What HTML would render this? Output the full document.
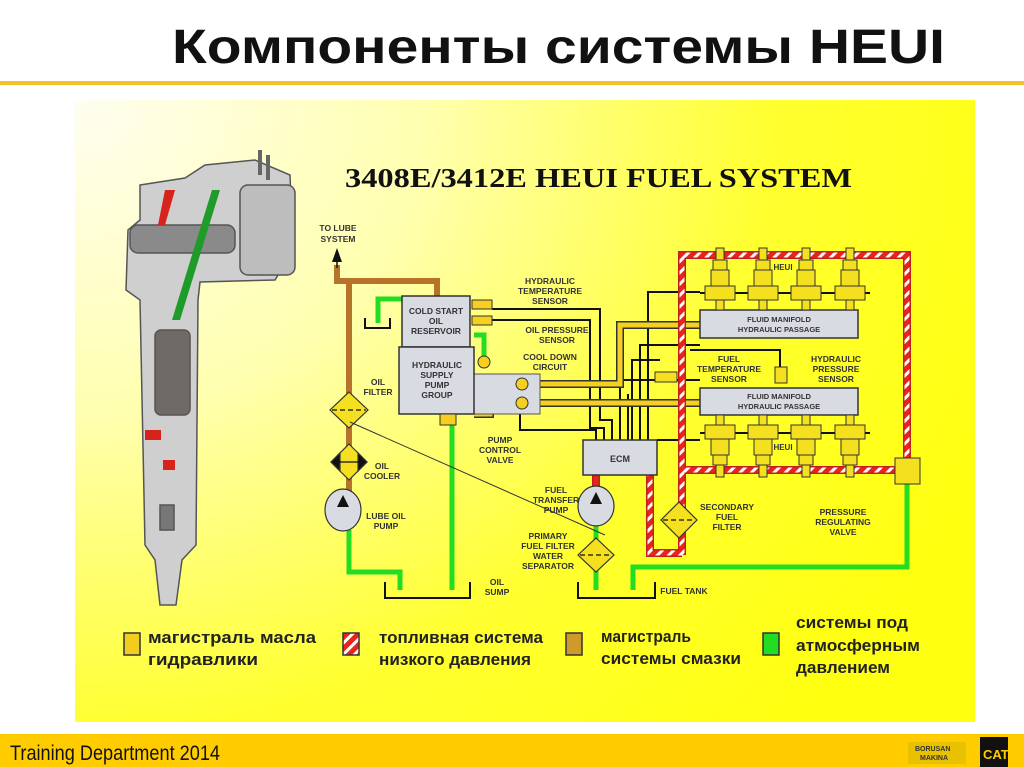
<!DOCTYPE html>
<html><head><meta charset="utf-8"><style>
html,body{margin:0;padding:0;background:#fff;width:1024px;height:767px;overflow:hidden;font-family:"Liberation Sans",sans-serif}
</style></head><body>
<svg width="1024" height="767" viewBox="0 0 1024 767" xmlns="http://www.w3.org/2000/svg" style="position:absolute;left:0;top:0">
<defs>
<radialGradient id="bg" cx="0" cy="0" r="1" gradientUnits="userSpaceOnUse" gradientTransform="translate(75 100) scale(1000 900)">
<stop offset="0" stop-color="#fffef0"/><stop offset="0.35" stop-color="#ffffb0"/><stop offset="0.7" stop-color="#ffff30"/><stop offset="1" stop-color="#ffff10"/>
</radialGradient>
<pattern id="stripe" width="8" height="8" patternUnits="userSpaceOnUse" patternTransform="rotate(45)">
<rect width="8" height="8" fill="#e8251c"/><rect width="3" height="8" fill="#fff"/>
</pattern>
</defs>
<text x="172" y="63" font-size="48" font-weight="bold" fill="#111" textLength="773" lengthAdjust="spacingAndGlyphs" font-family="Liberation Sans,sans-serif">Компоненты системы HEUI</text>
<rect x="0" y="81" width="1024" height="4" fill="#f2c228"/>
<rect x="75" y="100" width="900" height="622" fill="url(#bg)"/>
<rect x="0" y="734" width="1024" height="33" fill="#ffcc00"/>
<text x="10" y="760" font-size="21" fill="#111" font-family="Liberation Sans,sans-serif" textLength="210" lengthAdjust="spacingAndGlyphs">Training Department 2014</text>
<rect x="908" y="742" width="58" height="22" fill="#e8c200"/>
<text x="915" y="751" font-size="7" font-weight="bold" fill="#333">BORUSAN</text><text x="920" y="760" font-size="7" font-weight="bold" fill="#333">MAKINA</text>
<rect x="980" y="737" width="28" height="30" fill="#111"/><text x="983" y="759" font-size="13" font-weight="bold" fill="#ffcc00">CAT</text>

<!-- injector picture -->
<g stroke="#555" stroke-width="1.5">
<path d="M140 185 L185 178 L205 165 L255 160 L290 175 L293 250 L275 280 L200 282 L198 300 L196 545 L182 560 L176 605 L160 605 L155 560 L145 545 L140 300 L126 290 L128 230 L140 220 Z" fill="#cfcfcf"/>
<rect x="240" y="185" width="55" height="90" rx="8" fill="#bdbdbd"/>
<rect x="130" y="225" width="105" height="28" rx="8" fill="#8a8a8a"/>
<rect x="155" y="330" width="35" height="85" rx="6" fill="#6f6a66"/>
<rect x="160" y="505" width="14" height="25" fill="#777"/>
</g>
<path d="M165 190 L175 190 L165 225 L158 225 Z" fill="#d8221c"/>
<path d="M212 190 L220 190 L180 320 L172 320 Z" fill="#1f9b2a"/>
<rect x="145" y="430" width="16" height="10" fill="#d8221c"/><rect x="163" y="460" width="12" height="10" fill="#d8221c"/>
<line x1="260" y1="150" x2="260" y2="175" stroke="#666" stroke-width="4"/><line x1="268" y1="155" x2="268" y2="180" stroke="#666" stroke-width="4"/>

<!-- diagram title -->
<text x="345" y="187" font-size="27" font-weight="bold" fill="#111" font-family="Liberation Serif,serif" textLength="507" lengthAdjust="spacingAndGlyphs">3408E/3412E HEUI FUEL SYSTEM</text>

<g font-family="Liberation Sans,sans-serif" font-size="8.5" font-weight="bold" fill="#333" text-anchor="middle">
<text x="338" y="231">TO LUBE</text><text x="338" y="242">SYSTEM</text>
<text x="550" y="284">HYDRAULIC</text><text x="550" y="294">TEMPERATURE</text><text x="550" y="304">SENSOR</text>
<text x="557" y="333">OIL PRESSURE</text><text x="557" y="343">SENSOR</text>
<text x="550" y="360">COOL DOWN</text><text x="550" y="370">CIRCUIT</text>
<text x="378" y="385">OIL</text><text x="378" y="395">FILTER</text>
<text x="382" y="469">OIL</text><text x="382" y="479">COOLER</text>
<text x="386" y="519">LUBE OIL</text><text x="386" y="529">PUMP</text>
<text x="500" y="443">PUMP</text><text x="500" y="453">CONTROL</text><text x="500" y="463">VALVE</text>
<text x="497" y="585">OIL</text><text x="497" y="595">SUMP</text>
<text x="556" y="493">FUEL</text><text x="556" y="503">TRANSFER</text><text x="556" y="513">PUMP</text>
<text x="548" y="539">PRIMARY</text><text x="548" y="549">FUEL FILTER</text><text x="548" y="559">WATER</text><text x="548" y="569">SEPARATOR</text>
<text x="684" y="594">FUEL TANK</text>
<text x="729" y="362">FUEL</text><text x="729" y="372">TEMPERATURE</text><text x="729" y="382">SENSOR</text>
<text x="836" y="362">HYDRAULIC</text><text x="836" y="372">PRESSURE</text><text x="836" y="382">SENSOR</text>
<text x="727" y="510">SECONDARY</text><text x="727" y="520">FUEL</text><text x="727" y="530">FILTER</text>
<text x="843" y="515">PRESSURE</text><text x="843" y="525">REGULATING</text><text x="843" y="535">VALVE</text>
</g>

<!-- black wires -->
<g fill="none" stroke="#111" stroke-width="2">
<path d="M492 309 H600 V420 H612 V442"/>
<path d="M492 320 H590 V428 H604 V442"/>
<path d="M490 405 H520 V430 H596 V442"/>
<path d="M648 442 V292 H700"/>
<path d="M640 442 V345 H700"/>
<path d="M632 442 V360 H660 M620 442 V380 H700 M628 442 V394"/>
<path d="M657 440 H700 M690 350 H780 V368"/>
</g>

<!-- brown lube line -->
<g fill="none" stroke="#b8732a" stroke-width="6">
<path d="M349 500 V281 H337 V265"/><path d="M349 281 H437 V298"/>
</g>
<path d="M337 248 L332 262 L342 262 Z" fill="#111"/>
<line x1="337" y1="262" x2="337" y2="268" stroke="#111" stroke-width="1.5"/>

<!-- green lines -->
<g fill="none" stroke="#22dd22" stroke-width="5">
<path d="M402 299 H378 V323"/>
<path d="M474 335 H484 V362"/>
<path d="M452 425 V590"/>
<path d="M349 530 V572 H400 V590"/>
<path d="M596 524 V590"/>
<path d="M907 484 V567 H633 V590"/>
</g>
<path d="M365 318 V328 H390 V318" fill="none" stroke="#111" stroke-width="2"/>
<path d="M385 582 V598 H470 V582" fill="none" stroke="#111" stroke-width="2"/>
<path d="M578 582 V598 H655 V582" fill="none" stroke="#111" stroke-width="2"/>

<!-- yellow hydraulic lines -->
<g fill="none" stroke="#333" stroke-width="8"><path d="M530 384 H620 V325 H700"/><path d="M530 403 H700"/><path d="M474 414 H490 V393 H500"/></g>
<g fill="none" stroke="#f5d020" stroke-width="5"><path d="M530 384 H620 V325 H700"/><path d="M530 403 H700"/><path d="M474 414 H490 V393 H500"/></g>

<!-- boxes -->
<rect x="474" y="374" width="66" height="40" fill="#d9dbe3" stroke="#555"/>
<rect x="402" y="296" width="68" height="51" fill="#d9dbe3" stroke="#333" stroke-width="1.5"/>
<rect x="399" y="347" width="75" height="67" fill="#d9dbe3" stroke="#333" stroke-width="1.5"/>
<g font-size="8.5" font-weight="bold" fill="#333" text-anchor="middle">
<text x="436" y="314">COLD START</text><text x="436" y="324">OIL</text><text x="436" y="334">RESERVOIR</text>
<text x="437" y="368">HYDRAULIC</text><text x="437" y="378">SUPPLY</text><text x="437" y="388">PUMP</text><text x="437" y="398">GROUP</text>
</g>
<circle cx="522" cy="384" r="6" fill="#f5d020" stroke="#333"/><circle cx="522" cy="403" r="6" fill="#f5d020" stroke="#333"/>
<circle cx="484" cy="362" r="6" fill="#f5d020" stroke="#333"/>
<rect x="472" y="300" width="20" height="9" fill="#f5d020" stroke="#333"/><rect x="472" y="316" width="20" height="9" fill="#f5d020" stroke="#333"/>
<rect x="440" y="414" width="16" height="11" fill="#f5d020" stroke="#333"/>

<!-- red striped fuel lines -->
<g fill="none" stroke="#c0201a" stroke-width="8">
<path d="M682 555 V255 H907 V460"/><path d="M682 470 H900"/><path d="M650 475 V553 H682"/><path d="M596 475 V490"/>
</g>
<g fill="none" stroke="url(#stripe)" stroke-width="5">
<path d="M682 555 V255 H907 V460"/><path d="M682 470 H900"/><path d="M650 475 V553 H682"/>
</g>
<line x1="596" y1="475" x2="596" y2="490" stroke="#e8251c" stroke-width="5"/>

<!-- manifolds -->
<rect x="700" y="310" width="158" height="28" fill="#d9dbe3" stroke="#333" stroke-width="1.5"/>
<rect x="700" y="388" width="158" height="27" fill="#d9dbe3" stroke="#333" stroke-width="1.5"/>
<g font-size="7.5" font-weight="bold" fill="#333" text-anchor="middle">
<text x="779" y="322">FLUID MANIFOLD</text><text x="779" y="332">HYDRAULIC PASSAGE</text>
<text x="779" y="399">FLUID MANIFOLD</text><text x="779" y="409">HYDRAULIC PASSAGE</text>
</g>
<line x1="700" y1="293" x2="870" y2="293" stroke="#111" stroke-width="2"/>
<line x1="700" y1="433" x2="870" y2="433" stroke="#111" stroke-width="2"/>
<g stroke="#333" stroke-width="1" fill="#f5e020">
<g transform="translate(720 300)"><rect x="-4" y="-52" width="8" height="12"/><rect x="-7" y="-40" width="14" height="10"/><rect x="-9" y="-30" width="18" height="16"/><rect x="-15" y="-14" width="30" height="14"/><rect x="-4" y="0" width="8" height="10"/></g>
<g transform="translate(763 300)"><rect x="-4" y="-52" width="8" height="12"/><rect x="-7" y="-40" width="14" height="10"/><rect x="-9" y="-30" width="18" height="16"/><rect x="-15" y="-14" width="30" height="14"/><rect x="-4" y="0" width="8" height="10"/></g>
<g transform="translate(806 300)"><rect x="-4" y="-52" width="8" height="12"/><rect x="-7" y="-40" width="14" height="10"/><rect x="-9" y="-30" width="18" height="16"/><rect x="-15" y="-14" width="30" height="14"/><rect x="-4" y="0" width="8" height="10"/></g>
<g transform="translate(850 300)"><rect x="-4" y="-52" width="8" height="12"/><rect x="-7" y="-40" width="14" height="10"/><rect x="-9" y="-30" width="18" height="16"/><rect x="-15" y="-14" width="30" height="14"/><rect x="-4" y="0" width="8" height="10"/></g>
<g transform="translate(720 425) scale(1 -1)"><rect x="-4" y="-52" width="8" height="12"/><rect x="-7" y="-40" width="14" height="10"/><rect x="-9" y="-30" width="18" height="16"/><rect x="-15" y="-14" width="30" height="14"/><rect x="-4" y="0" width="8" height="10"/></g>
<g transform="translate(763 425) scale(1 -1)"><rect x="-4" y="-52" width="8" height="12"/><rect x="-7" y="-40" width="14" height="10"/><rect x="-9" y="-30" width="18" height="16"/><rect x="-15" y="-14" width="30" height="14"/><rect x="-4" y="0" width="8" height="10"/></g>
<g transform="translate(806 425) scale(1 -1)"><rect x="-4" y="-52" width="8" height="12"/><rect x="-7" y="-40" width="14" height="10"/><rect x="-9" y="-30" width="18" height="16"/><rect x="-15" y="-14" width="30" height="14"/><rect x="-4" y="0" width="8" height="10"/></g>
<g transform="translate(850 425) scale(1 -1)"><rect x="-4" y="-52" width="8" height="12"/><rect x="-7" y="-40" width="14" height="10"/><rect x="-9" y="-30" width="18" height="16"/><rect x="-15" y="-14" width="30" height="14"/><rect x="-4" y="0" width="8" height="10"/></g>
<rect x="655" y="372" width="22" height="10"/><rect x="775" y="367" width="12" height="16"/>
<rect x="895" y="458" width="25" height="26"/>
</g>
<text x="783" y="270" font-size="8" font-weight="bold" fill="#333" text-anchor="middle">HEUI</text>
<text x="783" y="450" font-size="8" font-weight="bold" fill="#333" text-anchor="middle">HEUI</text>

<!-- ECM -->
<rect x="583" y="440" width="74" height="35" fill="#d9dbe3" stroke="#333" stroke-width="1.5"/>
<text x="620" y="462" font-size="9" font-weight="bold" fill="#333" text-anchor="middle">ECM</text>

<!-- filters and pumps -->
<g stroke="#333" stroke-width="1.2">
<path d="M349 392 L368 410 L349 428 L330 410 Z" fill="#f5e020"/>
<path d="M349 444 L367 462 L349 480 L331 462 Z" fill="#f5e020"/>
<path d="M331 462 L340 453 L340 471 Z M367 462 L358 453 L358 471 Z" fill="#111"/>
<ellipse cx="343" cy="510" rx="18" ry="21" fill="#d9dbe3"/>
<ellipse cx="596" cy="506" rx="18" ry="20" fill="#d9dbe3"/>
<path d="M596 538 L614 555 L596 572 L578 555 Z" fill="#f5e020"/>
<path d="M679 502 L697 520 L679 538 L661 520 Z" fill="#f5e020"/>
</g>
<path d="M343 495 L337 507 L349 507 Z M596 492 L590 504 L602 504 Z" fill="#111"/>
<g stroke="#111" stroke-width="1.2" stroke-dasharray="5 3"><line x1="332" y1="410" x2="366" y2="410"/><line x1="580" y1="555" x2="612" y2="555"/><line x1="663" y1="520" x2="695" y2="520"/></g>
<line x1="333" y1="462" x2="365" y2="462" stroke="#111" stroke-width="1.2"/>
<line x1="350" y1="422" x2="605" y2="535" stroke="#333" stroke-width="1"/>

<!-- legend -->
<g stroke="#333" stroke-width="1.5">
<rect x="124" y="633" width="16" height="22" fill="#f3cc20"/>
<rect x="343" y="633" width="16" height="22" fill="url(#stripe)"/>
<rect x="566" y="633" width="16" height="22" fill="#cf9a2a"/>
<rect x="763" y="633" width="16" height="22" fill="#22dd22"/>
</g>
<g font-size="17" fill="#222" font-family="Liberation Sans,sans-serif" font-weight="bold">
<text x="148" y="643" textLength="168" lengthAdjust="spacingAndGlyphs">магистраль масла</text><text x="148" y="665" textLength="110" lengthAdjust="spacingAndGlyphs">гидравлики</text>
<text x="379" y="643" textLength="164" lengthAdjust="spacingAndGlyphs">топливная система</text><text x="379" y="665" textLength="152" lengthAdjust="spacingAndGlyphs">низкого давления</text>
<text x="601" y="642" textLength="90" lengthAdjust="spacingAndGlyphs">магистраль</text><text x="601" y="664" textLength="140" lengthAdjust="spacingAndGlyphs">системы смазки</text>
<text x="796" y="628" textLength="112" lengthAdjust="spacingAndGlyphs">системы под</text><text x="796" y="651" textLength="124" lengthAdjust="spacingAndGlyphs">атмосферным</text><text x="796" y="673" textLength="94" lengthAdjust="spacingAndGlyphs">давлением</text>
</g>
</svg>
</body></html>
